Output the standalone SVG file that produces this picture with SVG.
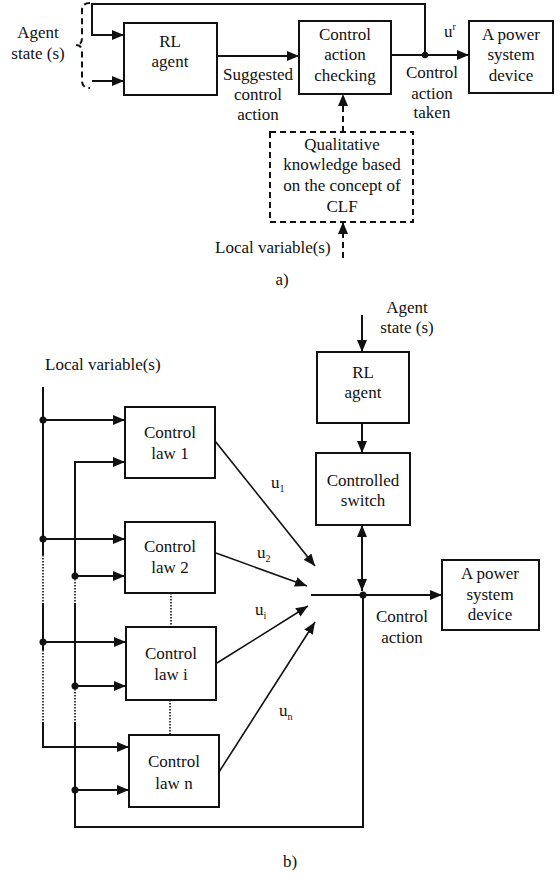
<svg xmlns="http://www.w3.org/2000/svg" width="560" height="875" viewBox="0 0 560 875" font-family="Liberation Serif, DejaVu Serif, serif">
<style>
text{font-family:'Liberation Serif','DejaVu Serif',serif;font-size:17px;fill:#111;}
.c{text-anchor:middle;}
.sub{font-size:10px;}
.box{fill:#fff;stroke:#111;stroke-width:2;}
.dbox{fill:none;stroke:#111;stroke-width:2;stroke-dasharray:6,4;}
.ln{fill:none;stroke:#111;stroke-width:2;}
.thin{fill:none;stroke:#111;stroke-width:1.6;}
.dl{fill:none;stroke:#111;stroke-width:2;stroke-dasharray:6,4;}
.dot{fill:none;stroke:#111;stroke-width:1.6;stroke-dasharray:1.5,1.5;}
.a{marker-end:url(#ah);}
</style>
<defs>
<marker id="ah" markerUnits="userSpaceOnUse" markerWidth="12" markerHeight="10" refX="12" refY="5" orient="auto-start-reverse"><path d="M0,0 L12,5 L0,10 z" fill="#111"/></marker>
</defs>
<g id="connectors">
<path class="dl" d="M90,3 Q82,3 82,10 L82,38 Q82,45 76,45 Q82,45 82,52 L82,81 Q82,88 90,88"/>
<path class="ln" d="M425,55 L425,4 L92,4 L92,35 L124,35" marker-end="url(#ah)"/>
<line class="ln a" x1="92" y1="81" x2="124" y2="81"/>
<line class="ln a" x1="217" y1="56" x2="299" y2="56"/>
<line class="ln a" x1="391" y1="55" x2="469" y2="55"/>
<circle cx="425" cy="55" r="3.2" fill="#111"/>
<line class="dl a" x1="343" y1="132" x2="343" y2="94"/>
<line class="dl a" x1="343" y1="258" x2="343" y2="222"/>
<line class="ln a" x1="362" y1="315" x2="362" y2="352"/>
<line class="ln a" x1="362" y1="423" x2="362" y2="453"/>
<line class="ln" x1="362" y1="525" x2="362" y2="591" marker-start="url(#ah)" marker-end="url(#ah)"/>
<line class="ln a" x1="311" y1="595" x2="442" y2="595"/>
<circle cx="363" cy="595" r="3.5" fill="#111"/>
<path class="ln" d="M363,595 L363,827 L75,827 L75,722"/>
<line class="ln" x1="43" y1="387" x2="43" y2="555"/>
<line class="dot" x1="43" y1="555" x2="43" y2="603"/>
<line class="ln" x1="43" y1="603" x2="43" y2="650"/>
<line class="dot" x1="43" y1="650" x2="43" y2="722"/>
<path class="ln" d="M43,722 L43,747 L129,747" marker-end="url(#ah)"/>
<line class="ln a" x1="43" y1="420" x2="125" y2="420"/>
<line class="ln a" x1="43" y1="539" x2="125" y2="539"/>
<line class="ln a" x1="43" y1="642" x2="126" y2="642"/>
<circle cx="43" cy="420" r="3.5" fill="#111"/>
<circle cx="43" cy="539" r="3.5" fill="#111"/>
<circle cx="43" cy="642" r="3.5" fill="#111"/>
<path class="ln" d="M125,462 L75,462 L75,576" marker-start="url(#ah)"/>
<line class="dot" x1="75" y1="576" x2="75" y2="603"/>
<line class="ln" x1="75" y1="603" x2="75" y2="686"/>
<line class="dot" x1="75" y1="686" x2="75" y2="722"/>
<line class="ln a" x1="75" y1="576" x2="125" y2="576"/>
<line class="ln a" x1="75" y1="686" x2="126" y2="686"/>
<line class="ln a" x1="75" y1="790" x2="129" y2="790"/>
<circle cx="75" cy="576" r="3.5" fill="#111"/>
<circle cx="75" cy="686" r="3.5" fill="#111"/>
<circle cx="75" cy="790" r="3.5" fill="#111"/>
<line class="dot" x1="171" y1="593" x2="171" y2="627"/>
<line class="dot" x1="170" y1="700" x2="170" y2="735"/>
<line class="thin a" x1="215" y1="441" x2="315" y2="566"/>
<line class="thin a" x1="216" y1="553" x2="307" y2="586"/>
<line class="thin a" x1="217" y1="663" x2="308" y2="606"/>
<line class="thin a" x1="219" y1="772" x2="315" y2="622"/>
</g>
<g id="agent-state-a">
<text class="c" x="38" y="38">Agent</text>
<text class="c" x="38" y="59">state (s)</text>
</g>
<g id="rl-agent-a">
<rect class="box" x="124" y="23" width="93" height="72"/>
<text class="c" x="170" y="47">RL</text>
<text class="c" x="170" y="67">agent</text>
</g>
<g id="checking-a">
<rect class="box" x="299" y="21" width="92" height="73"/>
<text class="c" x="345" y="40">Control</text>
<text class="c" x="345" y="60">action</text>
<text class="c" x="345" y="81">checking</text>
</g>
<g id="device-a">
<rect class="box" x="469" y="21" width="84" height="72"/>
<text class="c" x="511" y="40">A power</text>
<text class="c" x="511" y="60">system</text>
<text class="c" x="511" y="81">device</text>
</g>
<g id="labels-a">
<text class="c" x="258" y="80">Suggested</text>
<text class="c" x="258" y="100">control</text>
<text class="c" x="258" y="120">action</text>
<text class="c" x="432" y="78">Control</text>
<text class="c" x="432" y="99">action</text>
<text class="c" x="432" y="118">taken</text>
<text x="444" y="37">u<tspan class="sub" dy="-7">r</tspan></text>
<text x="215" y="253">Local variable(s)</text>
<text class="c" x="282" y="285">a)</text>
</g>
<g id="clf-a">
<rect class="dbox" x="270" y="132" width="143" height="90"/>
<text class="c" x="342" y="150">Qualitative</text>
<text class="c" x="342" y="170">knowledge based</text>
<text class="c" x="342" y="191">on the concept of</text>
<text class="c" x="342" y="212">CLF</text>
</g>
<g id="agent-state-b">
<text class="c" x="407" y="313">Agent</text>
<text class="c" x="407" y="333">state (s)</text>
</g>
<g id="rl-agent-b">
<rect class="box" x="317" y="352" width="92" height="71"/>
<text class="c" x="363" y="378">RL</text>
<text class="c" x="363" y="398">agent</text>
</g>
<g id="switch-b">
<rect class="box" x="316" y="453" width="94" height="72"/>
<text class="c" x="363" y="486">Controlled</text>
<text class="c" x="363" y="506">switch</text>
</g>
<g id="device-b">
<rect class="box" x="442" y="560" width="97" height="70"/>
<text class="c" x="490" y="579">A power</text>
<text class="c" x="490" y="600">system</text>
<text class="c" x="490" y="620">device</text>
</g>
<g id="law1">
<rect class="box" x="125" y="407" width="90" height="71"/>
<text class="c" x="170" y="438">Control</text>
<text class="c" x="170" y="459">law 1</text>
</g>
<g id="law2">
<rect class="box" x="125" y="522" width="90" height="71"/>
<text class="c" x="170" y="552">Control</text>
<text class="c" x="170" y="573">law 2</text>
</g>
<g id="lawi">
<rect class="box" x="126" y="627" width="90" height="73"/>
<text class="c" x="171" y="659">Control</text>
<text class="c" x="171" y="680">law i</text>
</g>
<g id="lawn">
<rect class="box" x="129" y="735" width="90" height="72"/>
<text class="c" x="174" y="767">Control</text>
<text class="c" x="174" y="789">law n</text>
</g>
<g id="labels-b">
<text x="45" y="370">Local variable(s)</text>
<text class="c" x="402" y="622">Control</text>
<text class="c" x="402" y="643">action</text>
<text x="271" y="488">u<tspan class="sub" dy="4">1</tspan></text>
<text x="257" y="558">u<tspan class="sub" dy="4">2</tspan></text>
<text x="255" y="615">u<tspan class="sub" dy="4">i</tspan></text>
<text x="279" y="716">u<tspan class="sub" dy="4">n</tspan></text>
<text class="c" x="290" y="867">b)</text>
</g>
</svg>
